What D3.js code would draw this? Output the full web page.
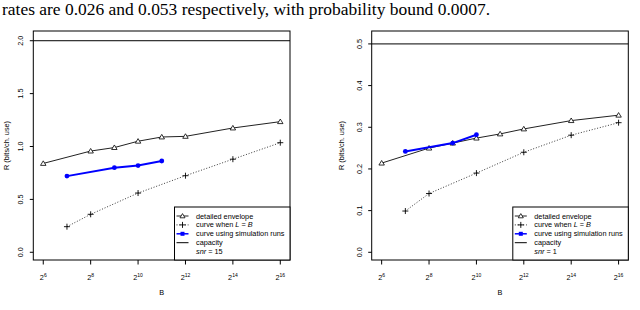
<!DOCTYPE html>
<html><head><meta charset="utf-8">
<script src="https://cdn.jsdelivr.net/npm/d3@7"></script>
<style>
html,body{margin:0;padding:0;background:#fff;}
svg{display:block;}
text{font-family:"Liberation Sans",Arial,sans-serif;fill:#000;}
</style></head>
<body>
<svg id="c" width="640" height="310"></svg>
<script>
// ---- data ----
const headline = "rates are 0.026 and 0.053 respectively, with probability bound 0.0007.";
const xTickExp = [6, 8, 10, 12, 14, 16];
const envExp = [6, 8, 9, 10, 11, 12, 14, 16];
const lbExp = [7, 8, 10, 12, 14, 16];
const simExpLeft = [7, 9, 10, 11];
const simExpRight = [7, 9, 10];
// snr = 15 panel
const envLeft = [0.84, 0.957, 0.99, 1.05, 1.09, 1.096, 1.175, 1.235];
const lbLeft = [0.242, 0.359, 0.56, 0.724, 0.88, 1.036];
const simLeft = [0.72, 0.80, 0.82, 0.863];
const capLeft = 2.0;
const yTicksLeft = ["0.0", "0.5", "1.0", "1.5", "2.0"];
// snr = 1 panel
const envRight = [0.214, 0.25, 0.262, 0.274, 0.284, 0.296, 0.316, 0.329];
const lbRight = [0.099, 0.141, 0.19, 0.24, 0.281, 0.311];
const simRight = [0.242, 0.262, 0.282];
const capRight = 0.5;
const yTicksRight = ["0.0", "0.1", "0.2", "0.3", "0.4", "0.5"];
const legendLabels = ["detailed envelope", "curve when L = B", "curve using simulation runs", "capacity", "snr = "];

const svg = d3.select("#c");
const FS = 7.3;

svg.append("text").attr("x", 2).attr("y", 14.6)
  .attr("textLength", 488).attr("lengthAdjust", "spacingAndGlyphs")
  .style("font-family", "'Liberation Serif','Times New Roman',serif")
  .style("font-size", "16px").text(headline);

function panel(cfg) {
  const L = cfg.left, R = cfg.right, T = 31, B = 260;
  const x = d3.scaleLinear().domain([5.58, 16.41]).range([L, R]);
  const y = d3.scaleLinear().domain(cfg.ydom).range([B, T]);
  const g = svg.append("g");

  // capacity line
  g.append("line").attr("x1", L).attr("x2", R)
    .attr("y1", y(cfg.cap)).attr("y2", y(cfg.cap))
    .attr("stroke", "#000").attr("stroke-width", 1);

  // L = B dotted
  const lbPts = cfg.lbExp.map((e, i) => [x(e), y(cfg.lb[i])]);
  g.append("path").attr("d", d3.line()(lbPts)).attr("fill", "none")
    .attr("stroke", "#222").attr("stroke-width", 0.9).attr("stroke-dasharray", "1,1.8");
  lbPts.forEach(p => plus(g, p[0], p[1], 3));

  // envelope
  const envPts = cfg.envExp.map((e, i) => [x(e), y(cfg.env[i])]);
  g.append("path").attr("d", d3.line()(envPts)).attr("fill", "none")
    .attr("stroke", "#222").attr("stroke-width", 1);
  envPts.forEach(p => tri(g, p[0], p[1], 2.6));

  // simulation
  const simPts = cfg.simExp.map((e, i) => [x(e), y(cfg.sim[i])]);
  g.append("path").attr("d", d3.line()(simPts)).attr("fill", "none")
    .attr("stroke", "#0000ff").attr("stroke-width", 2);
  simPts.forEach(p => g.append("circle").attr("cx", p[0]).attr("cy", p[1]).attr("r", 2.4).attr("fill", "#0000ff"));

  // box
  g.append("rect").attr("x", L).attr("y", T).attr("width", R - L).attr("height", B - T)
    .attr("fill", "none").attr("stroke", "#000").attr("stroke-width", 1);

  // x axis
  xTickExp.forEach(e => {
    g.append("line").attr("x1", x(e)).attr("x2", x(e)).attr("y1", B).attr("y2", B + 4.5)
      .attr("stroke", "#000").attr("stroke-width", 1);
    const t = g.append("text").attr("x", x(e)).attr("y", 280).attr("text-anchor", "middle")
      .style("font-size", FS + "px");
    t.append("tspan").text("2");
    t.append("tspan").attr("dy", -3.2).style("font-size", "5px").text(e);
  });
  g.append("text").attr("x", (L + R) / 2).attr("y", 295).attr("text-anchor", "middle")
    .style("font-size", FS + "px").text("B");

  // y axis
  cfg.yticks.forEach(s => {
    const v = +s;
    g.append("line").attr("x1", L - 3.5).attr("x2", L).attr("y1", y(v)).attr("y2", y(v))
      .attr("stroke", "#000").attr("stroke-width", 1);
    g.append("text").attr("transform", `translate(${L - 10},${y(v)}) rotate(-90)`)
      .attr("text-anchor", "middle").style("font-size", FS + "px").text(s);
  });
  g.append("text").attr("transform", `translate(${cfg.ytitleX},${(T + B) / 2}) rotate(-90)`)
    .attr("text-anchor", "middle").style("font-size", FS + "px").text("R (bits/ch. use)");

  // legend
  const lx = R - 115.5, ly = 207;
  g.append("rect").attr("x", lx).attr("y", ly).attr("width", R - lx).attr("height", B - ly)
    .attr("fill", "#fff").attr("stroke", "#000").attr("stroke-width", 1);
  const rowY = i => 216 + i * 8.9;
  const sx1 = lx + 2, sx2 = lx + 14, sc = lx + 8;
  g.append("line").attr("x1", sx1).attr("x2", sx2).attr("y1", rowY(0)).attr("y2", rowY(0)).attr("stroke", "#222");
  tri(g, sc, rowY(0), 2.4);
  g.append("line").attr("x1", sx1).attr("x2", sx2).attr("y1", rowY(1)).attr("y2", rowY(1))
    .attr("stroke", "#222").attr("stroke-dasharray", "1,1.8");
  plus(g, sc, rowY(1), 3);
  g.append("line").attr("x1", sx1).attr("x2", sx2).attr("y1", rowY(2)).attr("y2", rowY(2))
    .attr("stroke", "#0000ff").attr("stroke-width", 1.5);
  g.append("rect").attr("x", sc - 2).attr("y", rowY(2) - 2).attr("width", 4).attr("height", 4).attr("fill", "#0000ff");
  g.append("line").attr("x1", sx1).attr("x2", sx2).attr("y1", rowY(3)).attr("y2", rowY(3)).attr("stroke", "#000");

  const tx = lx + 21.5;
  const txt = i => g.append("text").attr("x", tx).attr("y", rowY(i) + 2.5).style("font-size", FS + "px");
  txt(0).text(legendLabels[0]);
  const t1 = txt(1);
  t1.append("tspan").text("curve when ");
  t1.append("tspan").style("font-style", "italic").text("L");
  t1.append("tspan").text(" = ");
  t1.append("tspan").style("font-style", "italic").text("B");
  txt(2).text(legendLabels[2]);
  txt(3).text(legendLabels[3]);
  const t4 = txt(4);
  t4.append("tspan").style("font-style", "italic").text("snr");
  t4.append("tspan").text(" = " + cfg.snr);
}

function tri(g, cx, cy, r) {
  g.append("path")
    .attr("d", `M${cx},${cy - r} L${cx + r * 1.05},${cy + r * 0.75} L${cx - r * 1.05},${cy + r * 0.75} Z`)
    .attr("fill", "#fff").attr("stroke", "#000").attr("stroke-width", 0.8);
}
function plus(g, cx, cy, r) {
  g.append("path").attr("d", `M${cx - r},${cy} H${cx + r} M${cx},${cy - r} V${cy + r}`)
    .attr("stroke", "#000").attr("stroke-width", 0.9).attr("fill", "none");
}

panel({left: 33.3, right: 290, ydom: [-0.073, 2.092], cap: capLeft,
  envExp: envExp, env: envLeft, lbExp: lbExp, lb: lbLeft, simExp: simExpLeft, sim: simLeft,
  yticks: yTicksLeft, ytitleX: 9, snr: 15});
panel({left: 371.7, right: 628.3, ydom: [-0.0185, 0.531], cap: capRight,
  envExp: envExp, env: envRight, lbExp: lbExp, lb: lbRight, simExp: simExpRight, sim: simRight,
  yticks: yTicksRight, ytitleX: 344, snr: 1});
</script>
</body></html>
